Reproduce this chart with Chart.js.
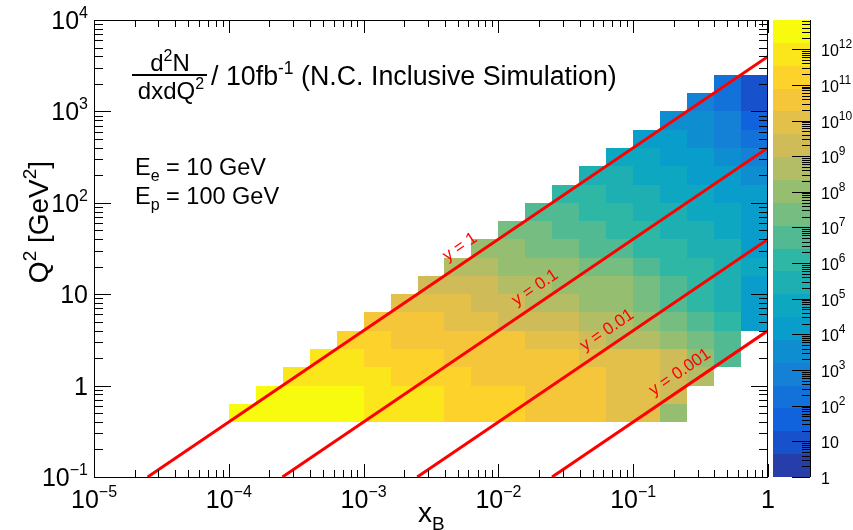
<!DOCTYPE html>
<html><head><meta charset="utf-8">
<script src="https://cdn.jsdelivr.net/npm/chart.js@4.4.0/dist/chart.umd.min.js"></script>
<style>html,body{margin:0;padding:0;background:#fff;}canvas{display:block;}</style>
</head><body>
<canvas id="c" width="853" height="530"></canvas>
<script>
// ---------- DATA ----------
// log10 of histogram bin edges
const xBinEdgesLog = [-5,-4.8,-4.6,-4.4,-4.2,-4,-3.8,-3.6,-3.4,-3.2,-3,-2.8,-2.6,-2.4,-2.2,-2,-1.8,-1.6,-1.4,-1.2,-1,-0.8,-0.6,-0.4,-0.2,0];
const q2BinEdgesLog = [-1,-0.8,-0.6,-0.4,-0.2,0,0.2,0.4,0.6,0.8,1,1.2,1.4,1.6,1.8,2,2.2,2.4,2.6,2.8,3,3.2,3.4,3.6,3.8,4];
// for every filled Q2 row: its Q2 bin index and first filled x bin index
const rowQ2Bin     = [3,4,5,6,7,8,9,10,11,12,13,14,15,16,17,18,19,20,21];
const rowFirstXBin = [5,6,7,8,9,10,11,12,13,14,15,16,17,18,19,20,21,22,23];
// log10( d2N/dxdQ2 per 10 fb^-1 ), one array per Q2 row
const logN_r03 = [12.5,12.5,12.5,12.5,12.5,11.9,11.9,11.9,11.2,11.2,11.2,10.6,10.6,10.6,9.9,9.9,8.0];
const logN_r04 = [12.5,12.5,12.5,12.5,11.9,11.9,11.9,11.2,11.2,11.2,10.6,10.6,10.6,9.9,9.9,9.3];
const logN_r05 = [11.9,11.9,11.9,11.9,11.2,11.2,11.2,10.6,10.6,10.6,10.6,10.6,9.9,9.9,9.3,8.6];
const logN_r06 = [11.9,11.9,11.2,11.2,11.2,10.6,10.6,10.6,10.6,10.6,9.9,9.9,9.9,9.3,8.0,6.7];
const logN_r07 = [11.2,11.2,10.6,10.6,10.6,10.6,10.6,9.9,9.9,9.3,8.6,8.6,8.0,7.4,6.7];
const logN_r08 = [10.6,10.6,10.6,9.9,9.9,9.3,9.3,9.3,8.6,8.6,8.0,7.4,6.7,6.1,4.2];
const logN_r09 = [9.9,9.9,9.9,9.3,9.3,8.6,8.6,8.0,8.0,7.4,6.7,6.1,5.4,4.2];
const logN_r10 = [9.3,9.3,9.3,8.6,8.6,8.0,8.0,8.0,7.4,6.7,6.1,5.4,4.2];
const logN_r11 = [8.6,8.6,8.0,8.0,8.0,7.4,7.4,6.7,6.1,6.1,5.4,4.8];
const logN_r12 = [8.0,8.0,7.4,7.4,6.7,6.7,6.1,6.1,5.4,5.4,4.2];
const logN_r13 = [7.4,7.4,6.7,6.7,6.1,6.1,5.4,5.4,4.8,4.2];
const logN_r14 = [6.7,6.7,6.1,6.1,5.4,5.4,4.8,4.8,4.2];
const logN_r15 = [6.1,6.1,5.4,5.4,4.8,4.8,4.2,4.2];
const logN_r16 = [5.4,5.4,4.8,4.8,4.2,4.2,3.5];
const logN_r17 = [4.8,4.8,4.2,4.2,3.5,2.9];
const logN_r18 = [4.2,4.2,3.5,2.9,2.2];
const logN_r19 = [3.5,3.5,2.9,1.6];
const logN_r20 = [2.9,2.2,1.0];
const logN_r21 = [2.2,1.0];
const rows = [logN_r03,logN_r04,logN_r05,logN_r06,logN_r07,logN_r08,logN_r09,logN_r10,logN_r11,logN_r12,
              logN_r13,logN_r14,logN_r15,logN_r16,logN_r17,logN_r18,logN_r19,logN_r20,logN_r21];

// constant-inelasticity lines: start point on the Q2=0.1 edge, end point on the x=1 edge
const yLineNames   = ['y = 1','y = 0.1','y = 0.01','y = 0.001'];
const yLineStartX  = [2.5e-5, 2.5e-4, 2.5e-3, 2.5e-2];
const yLineStartQ2 = [0.1, 0.1, 0.1, 0.1];
const yLineEndX    = [1, 1, 1, 1];
const yLineEndQ2   = [4000, 400, 40, 4];
const yLineLabelX  = [0.0052, 0.0187, 0.064, 0.222];

// axis ticks
const xTickVals = [1e-5,1e-4,1e-3,1e-2,1e-1,1];
const xTickBase = ['10','10','10','10','10','1'];
const xTickExp  = ['\u22125','\u22124','\u22123','\u22122','\u22121',''];
const yTickVals = [0.1,1,10,100,1000,10000];
const yTickBase = ['10','1','10','10','10','10'];
const yTickExp  = ['\u22121','','','2','3','4'];
const zTickVals = [1,10,1e2,1e3,1e4,1e5,1e6,1e7,1e8,1e9,1e10,1e11,1e12];
const zTickBase = ['1','10','10','10','10','10','10','10','10','10','10','10','10'];
const zTickExp  = ['','','2','3','4','5','6','7','8','9','10','11','12'];
const zMaxLog = 12.82, nContours = 20;

// ---------- STYLE ----------
const FONT = '"Liberation Sans", Arial, Helvetica, sans-serif';
const KB = {
  s:[0,0.125,0.25,0.375,0.5,0.625,0.75,0.875,1],
  r:[0.2082,0.0592,0.0780,0.0232,0.1802,0.5301,0.8186,0.9956,0.9764],
  g:[0.1664,0.3599,0.5041,0.6419,0.7178,0.7492,0.7328,0.7862,0.9832],
  b:[0.5293,0.8684,0.8385,0.7914,0.6425,0.4662,0.3499,0.1968,0.0539]
};
function bird(f){
  let i=0; while(i<7 && f>KB.s[i+1]) i++;
  const t=(f-KB.s[i])/(KB.s[i+1]-KB.s[i]);
  const c=k=>Math.round(255*(KB[k][i]+t*(KB[k][i+1]-KB[k][i])));
  return `rgb(${c('r')},${c('g')},${c('b')})`;
}
const bandColors = Array.from({length:nContours},(_,k)=>bird((k+0.99)/nContours));
const bandW = zMaxLog/nContours;
function colorFor(lv){ let k=Math.floor(lv/bandW); k=Math.max(0,Math.min(nContours-1,k)); return bandColors[k]; }

function rich(ctx, parts, x, y, align){
  let w=0;
  parts.forEach(p=>{ctx.font=`${p[1]}px ${FONT}`; w+=ctx.measureText(p[0]).width;});
  let cx = align==='right' ? x-w : align==='center' ? x-w/2 : x;
  parts.forEach(p=>{ctx.font=`${p[1]}px ${FONT}`; ctx.fillText(p[0], cx, y+(p[2]||0)); cx+=ctx.measureText(p[0]).width;});
  return w;
}

const heatmap = {
  id:'heatmap',
  beforeDatasetsDraw(chart){
    const {ctx, scales:{x,y}} = chart;
    ctx.save();
    rows.forEach((vals,r)=>{
      const j=rowQ2Bin[r], c0=rowFirstXBin[r];
      const yT=Math.round(y.getPixelForValue(10**q2BinEdgesLog[j+1]));
      const yB=Math.round(y.getPixelForValue(10**q2BinEdgesLog[j]));
      vals.forEach((v,k)=>{
        const c=c0+k;
        const xl=Math.round(x.getPixelForValue(10**xBinEdgesLog[c]));
        const xr=Math.round(x.getPixelForValue(10**xBinEdgesLog[c+1]));
        ctx.fillStyle=colorFor(v);
        ctx.fillRect(xl,yT,xr-xl,yB-yT);
      });
    });
    ctx.restore();
  }
};

const decor = {
  id:'decor',
  afterDatasetsDraw(chart){
    const {ctx, chartArea:a, scales:{x,y,z}} = chart;
    ctx.save();
    // line labels
    ctx.fillStyle='#ff0000';
    yLineNames.forEach((name,i)=>{
      const p1x=x.getPixelForValue(yLineStartX[i]), p1y=y.getPixelForValue(yLineStartQ2[i]);
      const p2x=x.getPixelForValue(yLineEndX[i]), p2y=y.getPixelForValue(yLineEndQ2[i]);
      const ang=Math.atan2(p2y-p1y,p2x-p1x);
      const px=x.getPixelForValue(yLineLabelX[i]);
      const py=p1y+(px-p1x)*(p2y-p1y)/(p2x-p1x);
      ctx.save();
      ctx.translate(px, py-18);
      ctx.rotate(ang);
      ctx.font=`17px ${FONT}`;
      ctx.textAlign='center'; ctx.textBaseline='middle';
      ctx.fillText(name,0,0);
      ctx.restore();
    });
    // frame
    ctx.strokeStyle='#000'; ctx.lineWidth=1;
    ctx.strokeRect(a.left+0.5,a.top+0.5,a.right-a.left-1,a.bottom-a.top);
    // ticks
    ctx.beginPath();
    for(let k=-5;k<=0;k++){
      for(let m=1;m<=9;m++){
        const v=m*10**k; if(v>1.0001) break;
        const px=Math.round(x.getPixelForValue(v))+0.5, L=(m===1)?13:7;
        ctx.moveTo(px,a.bottom); ctx.lineTo(px,a.bottom-L);
        ctx.moveTo(px,a.top); ctx.lineTo(px,a.top+L);
      }
    }
    for(let k=-1;k<=4;k++){
      for(let m=1;m<=9;m++){
        const v=m*10**k; if(v>10000.1) break;
        const py=Math.round(y.getPixelForValue(v))+0.5, L=(m===1)?17:9;
        ctx.moveTo(a.left,py); ctx.lineTo(a.left+L,py);
        ctx.moveTo(a.right,py); ctx.lineTo(a.right-L,py);
      }
    }
    ctx.stroke();
    // tick labels
    ctx.fillStyle='#000'; ctx.textBaseline='alphabetic'; ctx.textAlign='left';
    xTickVals.forEach((v,i)=>{
      const px=x.getPixelForValue(v);
      const parts=[[xTickBase[i],25]]; if(xTickExp[i]) parts.push([xTickExp[i],16,-11]);
      rich(ctx,parts,px,508,'center');
    });
    yTickVals.forEach((v,i)=>{
      const py=y.getPixelForValue(v);
      const parts=[[yTickBase[i],25]]; if(yTickExp[i]) parts.push([yTickExp[i],16,-11]);
      rich(ctx,parts,88,py+9,'right');
    });
    // axis titles
    rich(ctx,[['x',28],['B',19,8]],418,522,'left');
    ctx.save();
    ctx.translate(48,222); ctx.rotate(-Math.PI/2);
    rich(ctx,[['Q',28],['2',19,-12],[' [GeV',28],['2',19,-12],[']',28]],0,0,'center');
    ctx.restore();
    // colour bar
    const cbL=a.right+5, cbR=a.right+42;
    for(let k=0;k<nContours;k++){
      const yb=Math.round(z.getPixelForValue(10**(k*bandW)));
      const yt=Math.round(z.getPixelForValue(10**((k+1)*bandW)));
      ctx.fillStyle=bandColors[k];
      ctx.fillRect(cbL,yt,cbR-cbL,yb-yt);
    }
    ctx.strokeStyle='#000'; ctx.lineWidth=1;
    ctx.beginPath();
    ctx.moveTo(cbR+0.5,a.top); ctx.lineTo(cbR+0.5,a.bottom);
    for(let k=0;k<=12;k++){
      for(let m=1;m<=9;m++){
        const v=m*10**k; if(Math.log10(v)>zMaxLog) break;
        const py=Math.round(z.getPixelForValue(v))+0.5, L=(m===1)?18:8;
        ctx.moveTo(cbR,py); ctx.lineTo(cbR-L,py);
      }
    }
    ctx.stroke();
    ctx.fillStyle='#000';
    zTickVals.forEach((v,i)=>{
      const py=z.getPixelForValue(v);
      const parts=[[zTickBase[i],16]]; if(zTickExp[i]) parts.push([zTickExp[i],12,-8]);
      rich(ctx,parts,cbR+11,py+7,'left');
    });
    // text annotations
    ctx.fillStyle='#000';
    rich(ctx,[['d',24],['2',16,-10],['N',24]],170,71,'center');
    ctx.fillRect(132,74,75,2);
    rich(ctx,[['dxdQ',24],['2',16,-10]],171,99,'center');
    rich(ctx,[['/ 10fb',26.8],['-1',17.5,-11],[' (N.C. Inclusive Simulation)',26.8]],211,85,'left');
    rich(ctx,[['E',23.5],['e',16,6],[' = 10 GeV',23.5]],135,175,'left');
    rich(ctx,[['E',23.5],['p',16,6],[' = 100 GeV',23.5]],135,204,'left');
    ctx.restore();
  }
};

const datasets = yLineNames.map((n,i)=>({
  label:n,
  data:[{x:yLineStartX[i],y:yLineStartQ2[i]},{x:yLineEndX[i],y:yLineEndQ2[i]}],
  showLine:true, borderColor:'#ff0000', borderWidth:3, pointRadius:0, fill:false
}));

new Chart(document.getElementById('c'),{
  type:'scatter',
  data:{datasets},
  options:{
    responsive:false, animation:false, devicePixelRatio:1,
    layout:{padding:{top:20,left:0,right:0,bottom:0}},
    plugins:{legend:{display:false},tooltip:{enabled:false}},
    scales:{
      x:{type:'logarithmic',min:1e-5,max:1,ticks:{display:false},grid:{display:false},border:{display:false},afterFit:s=>{s.height=53;}},
      y:{type:'logarithmic',min:0.1,max:1e4,ticks:{display:false},grid:{display:false},border:{display:false},afterFit:s=>{s.width=94;}},
      z:{type:'logarithmic',axis:'y',position:'right',min:1,max:10**zMaxLog,ticks:{display:false},grid:{display:false},border:{display:false},afterFit:s=>{s.width=85;}}
    }
  },
  plugins:[heatmap,decor]
});
</script>
</body></html>
